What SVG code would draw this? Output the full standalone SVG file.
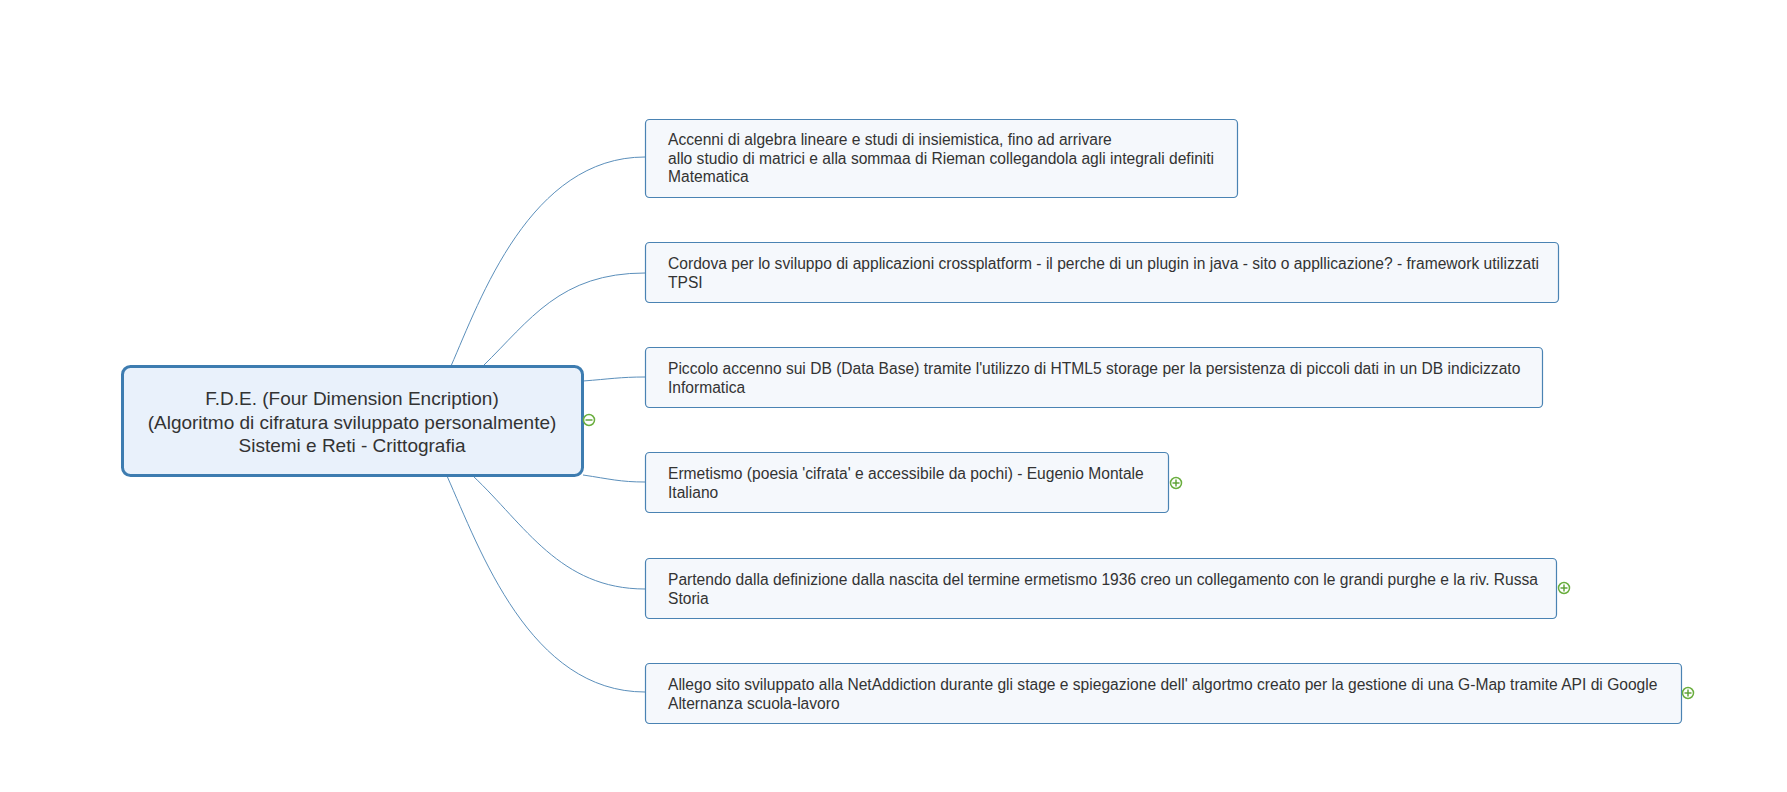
<svg xmlns="http://www.w3.org/2000/svg" width="1787" height="792" viewBox="0 0 1787 792">
<style>
.bg{fill:#ffffff}
.main{fill:#e9f1fb;stroke:#3d7cb0;stroke-width:3}
.child{fill:#f5f8fc;stroke:#4a83b3;stroke-width:1.2}
.conn{fill:none;stroke:#5b8fbb;stroke-width:1}
.mt{font-family:"Liberation Sans",Arial,sans-serif;font-size:19px;fill:#333333;text-anchor:middle}
.ct{font-family:"Liberation Sans",Arial,sans-serif;font-size:15.6px;fill:#333333}
.ico{fill:#ffffff;stroke:#6aae3e;stroke-width:1.5}
.icl{stroke:#5a9e30;stroke-width:1.4}
</style>
<rect class="bg" x="0" y="0" width="1787" height="792"/>
<g id="connectors">
<path class="conn" d="M451 366 C480 300 530 157 645 157"/>
<path class="conn" d="M483 366 C530 320 560 273 645 273"/>
<path class="conn" d="M583 381 C610 379 620 377 645 377"/>
<path class="conn" d="M583 475 C610 479 620 482 645 482"/>
<path class="conn" d="M473 476 C525 525 560 589 645 589"/>
<path class="conn" d="M447 476 C480 550 530 692 645 692"/>
</g>
<g id="main">
<rect class="main" x="122.5" y="366.5" width="460" height="109" rx="8"/>
<text class="mt" x="352" y="405">F.D.E. (Four Dimension Encription)</text>
<text class="mt" x="352" y="429">(Algoritmo di cifratura sviluppato personalmente)</text>
<text class="mt" x="352" y="452">Sistemi e Reti - Crittografia</text>
<circle class="ico" cx="589" cy="420" r="5.5"/>
<line class="icl" x1="585.5" y1="420" x2="592.5" y2="420"/>
</g>
<g id="n1">
<rect class="child" x="645.5" y="119.5" width="592" height="78" rx="4"/>
<text class="ct" x="668" y="145">Accenni di algebra lineare e studi di insiemistica, fino ad arrivare</text>
<text class="ct" x="668" y="163.5">allo studio di matrici e alla sommaa di Rieman collegandola agli integrali definiti</text>
<text class="ct" x="668" y="182">Matematica</text>
</g>
<g id="n2">
<rect class="child" x="645.5" y="242.5" width="913" height="60" rx="4"/>
<text class="ct" x="668" y="269">Cordova per lo sviluppo di applicazioni crossplatform - il perche di un plugin in java - sito o appllicazione? - framework utilizzati</text>
<text class="ct" x="668" y="287.5">TPSI</text>
</g>
<g id="n3">
<rect class="child" x="645.5" y="347.5" width="897" height="60" rx="4"/>
<text class="ct" x="668" y="374">Piccolo accenno sui DB (Data Base) tramite l'utilizzo di HTML5 storage per la persistenza di piccoli dati in un DB indicizzato</text>
<text class="ct" x="668" y="392.5">Informatica</text>
</g>
<g id="n4">
<rect class="child" x="645.5" y="452.5" width="523" height="60" rx="4"/>
<text class="ct" x="668" y="479">Ermetismo (poesia 'cifrata' e accessibile da pochi) - Eugenio Montale</text>
<text class="ct" x="668" y="497.5">Italiano</text>
<circle class="ico" cx="1176" cy="483" r="5.5"/>
<line class="icl" x1="1172.5" y1="483" x2="1179.5" y2="483"/>
<line class="icl" x1="1176" y1="479.5" x2="1176" y2="486.5"/>
</g>
<g id="n5">
<rect class="child" x="645.5" y="558.5" width="911" height="60" rx="4"/>
<text class="ct" x="668" y="585">Partendo dalla definizione dalla nascita del termine ermetismo 1936 creo un collegamento con le grandi purghe e la riv. Russa</text>
<text class="ct" x="668" y="603.5">Storia</text>
<circle class="ico" cx="1564" cy="588" r="5.5"/>
<line class="icl" x1="1560.5" y1="588" x2="1567.5" y2="588"/>
<line class="icl" x1="1564" y1="584.5" x2="1564" y2="591.5"/>
</g>
<g id="n6">
<rect class="child" x="645.5" y="663.5" width="1036" height="60" rx="4"/>
<text class="ct" x="668" y="690">Allego sito sviluppato alla NetAddiction durante gli stage e spiegazione dell' algortmo creato per la gestione di una G-Map tramite API di Google</text>
<text class="ct" x="668" y="708.5">Alternanza scuola-lavoro</text>
<circle class="ico" cx="1688" cy="693" r="5.5"/>
<line class="icl" x1="1684.5" y1="693" x2="1691.5" y2="693"/>
<line class="icl" x1="1688" y1="689.5" x2="1688" y2="696.5"/>
</g>
</svg>
